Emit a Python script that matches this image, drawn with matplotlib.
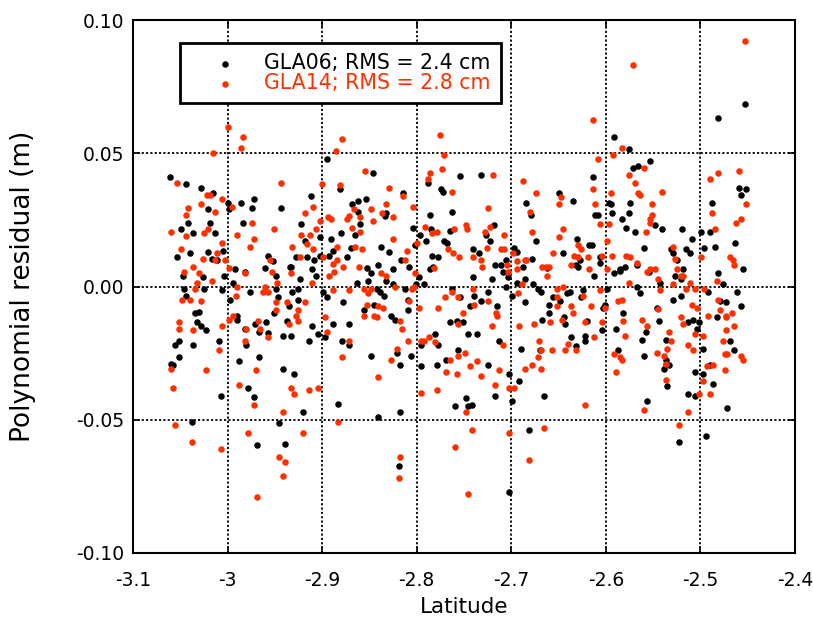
import matplotlib
matplotlib.use("Agg")
import matplotlib.pyplot as plt
import numpy as np

# GLA06 (black) points: latitude, residual (m)
gla06 = [
(-3.061,0.041),(-3.044,0.0386),(-3.028,0.037),(-3.015,0.035),(-3.0,0.0315),(-2.986,0.0315),(-2.972,0.033),(-2.998,0.029),
(-2.974,0.0296),(-3.021,0.029),(-3.042,0.024),(-3.019,0.024),(-2.984,0.024),(-3.049,0.0214),(-3.037,0.020),(-3.013,0.020),
(-3.040,0.0124),(-3.021,0.013),(-3.005,0.0135),(-3.053,0.011),(-3.016,0.0105),(-3.011,0.0098),(-2.992,0.0067),
(-2.982,0.0056),(-3.047,0.004),(-3.026,0.0034),(-3.004,0.004),(-2.994,0.0015),(-3.046,-0.0008),(-3.025,-0.0008),(-3.006,-0.0015),
(-2.976,-0.002),(-3.044,-0.0034),(-2.997,-0.0052),(-3.030,-0.0094),(-3.034,-0.010),(-2.990,-0.011),(-2.990,-0.0124),(-3.032,-0.0135),
(-3.028,-0.015),(-2.971,-0.014),(-3.023,-0.0165),(-2.982,-0.0158),(-2.967,-0.017),(-3.051,-0.0206),(-3.056,-0.022),(-3.037,-0.022),
(-3.009,-0.0206),(-2.980,-0.022),(-3.051,-0.0266),(-2.967,-0.0266),(-3.060,-0.029),(-3.058,-0.0296),(-2.988,-0.028),(-2.978,-0.038),
(-3.007,-0.041),(-2.972,-0.0416),(-3.038,-0.051),(-2.969,-0.0596),
(-2.895,0.048),(-2.881,0.0364),(-2.912,0.034),(-2.862,0.032),(-2.944,0.0296),(-2.868,0.031),(-2.862,0.028),(-2.860,0.0236),
(-2.922,0.0236),(-2.880,0.020),(-2.902,0.0187),(-2.865,0.0195),(-2.891,0.018),(-2.918,0.0172),(-2.870,0.0146),(-2.902,0.0116),
(-2.888,0.0135),(-2.957,0.0116),(-2.952,0.0094),(-2.928,0.011),(-2.916,0.011),(-2.893,0.0116),(-2.909,0.0098),(-2.874,0.011),
(-2.934,0.0075),(-2.911,0.0067),
(-2.960,0.007),(-2.949,0.004),(-2.933,0.0075),(-2.907,0.004),(-2.923,0.003),(-2.863,0.0015),(-2.949,-0.0008),(-2.932,-0.002),
(-2.926,-0.0008),(-2.899,-0.002),(-2.947,-0.004),(-2.895,-0.004),(-2.926,-0.005),(-2.935,-0.0075),(-2.878,-0.006),(-2.951,-0.010),
(-2.959,-0.0135),(-2.937,-0.013),(-2.888,-0.014),(-2.872,-0.014),(-2.911,-0.015),(-2.904,-0.018),(-2.957,-0.0176),(-2.941,-0.0184),
(-2.933,-0.0184),(-2.897,-0.019),(-2.914,-0.0206),(-2.879,-0.0206),(-2.872,-0.022),(-2.941,-0.031),(-2.930,-0.033),(-2.883,-0.044),
(-2.920,-0.047),(-2.946,-0.0514),(-2.939,-0.059),
(-2.846,0.0427),(-2.754,0.0416),(-2.788,0.039),(-2.774,0.0364),(-2.772,0.0356),(-2.815,0.035),(-2.854,0.033),(-2.763,0.028),
(-2.832,0.0274),(-2.834,0.0266),(-2.786,0.027),(-2.804,0.022),(-2.785,0.0214),(-2.797,0.0195),(-2.765,0.021),(-2.790,0.0172),
(-2.771,0.0172),(-2.768,0.0165),(-2.802,0.0157),(-2.838,0.015),(-2.829,0.013),(-2.784,0.0116),(-2.778,0.011),(-2.817,0.0098),
(-2.808,0.0075),(-2.841,0.0082),(-2.853,0.0071),(-2.825,0.0067),
(-2.786,0.0064),(-2.783,0.0075),(-2.848,0.005),(-2.798,0.0034),(-2.851,0.0019),(-2.833,0.0019),(-2.825,0.0008),(-2.842,-0.0008),
(-2.812,-0.0008),(-2.801,0.0008),(-2.792,0.0008),(-2.839,-0.002),(-2.835,-0.0034),(-2.763,-0.0008),(-2.809,-0.005),(-2.845,-0.0068),
(-2.856,-0.009),(-2.809,-0.009),(-2.827,-0.011),(-2.823,-0.0124),(-2.765,-0.0135),(-2.757,-0.013),(-2.781,-0.018),(-2.795,-0.022),
(-2.777,-0.022),(-2.821,-0.0248),(-2.756,-0.024),(-2.848,-0.026),(-2.806,-0.026),(-2.769,-0.0274),(-2.818,-0.0296),(-2.795,-0.030),
(-2.779,-0.0296),(-2.760,-0.045),(-2.841,-0.0488),(-2.818,-0.047),(-2.819,-0.0675),
(-2.732,0.042),(-2.650,0.035),(-2.684,0.0315),(-2.679,0.027),(-2.718,0.0232),(-2.727,0.0195),(-2.723,0.0172),(-2.674,0.0172),
(-2.741,0.014),(-2.697,0.0146),(-2.694,0.013),(-2.734,0.0127),(-2.678,0.0105),(-2.706,0.0098),(-2.717,0.0082),(-2.711,0.0082),
(-2.688,0.0075),(-2.662,0.0071),
(-2.709,0.0056),(-2.741,0.0037),(-2.720,0.003),(-2.686,0.003),(-2.703,0.0037),(-2.694,0.0015),(-2.677,0.0008),(-2.706,0.0),
(-2.672,-0.0008),(-2.669,-0.002),(-2.725,-0.002),(-2.699,-0.0034),(-2.754,-0.004),(-2.739,-0.0034),(-2.732,-0.0056),(-2.656,-0.004),
(-2.686,-0.006),(-2.744,-0.0075),(-2.715,-0.0075),(-2.660,-0.0068),(-2.660,-0.010),(-2.667,-0.0124),(-2.751,-0.0135),(-2.746,-0.018),
(-2.736,-0.018),(-2.713,-0.0206),(-2.690,-0.0233),(-2.670,-0.024),(-2.725,-0.0296),(-2.702,-0.033),(-2.692,-0.0356),(-2.717,-0.041),
(-2.665,-0.041),(-2.748,-0.042),(-2.699,-0.043),(-2.742,-0.0446),(-2.746,-0.045),(-2.681,-0.054),(-2.702,-0.077),
(-2.591,0.056),(-2.576,0.0517),(-2.571,0.0446),(-2.566,0.0454),(-2.553,0.047),(-2.614,0.041),(-2.635,0.032),(-2.597,0.0315),
(-2.595,0.031),(-2.574,0.0315),(-2.593,0.0277),(-2.611,0.027),(-2.608,0.027),(-2.576,0.0277),(-2.583,0.0255),(-2.548,0.0229),
(-2.579,0.022),(-2.569,0.0206),(-2.630,0.018),(-2.618,0.0157),(-2.615,0.0157),(-2.560,0.0146),(-2.645,0.0124),(-2.627,0.010),
(-2.606,0.011),(-2.580,0.0075),(-2.567,0.008),(-2.606,0.009),(-2.632,0.008),(-2.629,0.0075),(-2.585,0.0067),
(-2.613,0.004),(-2.591,0.005),(-2.585,0.006),(-2.554,0.0053),(-2.567,0.0),(-2.599,-0.0008),(-2.624,-0.0015),(-2.641,-0.0026),
(-2.638,-0.002),(-2.564,-0.0026),(-2.626,-0.004),(-2.648,-0.0056),(-2.601,-0.0068),(-2.603,-0.0082),(-2.546,-0.0082),(-2.582,-0.010),
(-2.644,-0.0116),(-2.620,-0.013),(-2.643,-0.014),(-2.544,-0.013),(-2.589,-0.0158),(-2.604,-0.0165),(-2.558,-0.017),(-2.637,-0.019),
(-2.622,-0.0187),(-2.562,-0.020),(-2.622,-0.0206),(-2.632,-0.0225),(-2.587,-0.024),(-2.560,-0.026),(-2.557,-0.043),
(-2.453,0.0686),(-2.481,0.0634),(-2.459,0.037),(-2.452,0.0364),(-2.457,0.0345),(-2.488,0.0315),(-2.541,0.0214),(-2.520,0.0214),
(-2.499,0.0206),(-2.490,0.0206),(-2.509,0.018),(-2.463,0.0165),(-2.485,0.015),(-2.496,0.0146),(-2.531,0.014),(-2.529,0.0124),
(-2.515,0.014),(-2.511,0.0124),(-2.525,0.0098),(-2.455,0.0067),(-2.518,0.0067),
(-2.481,0.005),(-2.527,0.004),(-2.521,0.003),(-2.476,0.0008),(-2.543,0.0015),(-2.492,-0.002),(-2.461,-0.002),(-2.521,-0.0034),
(-2.529,-0.005),(-2.479,-0.0056),(-2.473,-0.006),(-2.457,-0.0075),(-2.483,-0.0116),(-2.508,-0.0124),(-2.513,-0.0135),(-2.502,-0.0135),
(-2.504,-0.0158),(-2.536,-0.020),(-2.469,-0.0206),(-2.497,-0.0233),(-2.465,-0.024),(-2.536,-0.0274),(-2.536,-0.029),(-2.533,-0.0296),
(-2.539,-0.031),(-2.490,-0.0296),(-2.506,-0.032),(-2.497,-0.033),(-2.487,-0.0364),(-2.535,-0.0375),(-2.513,-0.0405),(-2.506,-0.041),
(-2.472,-0.0457),(-2.494,-0.0562),(-2.523,-0.0585),
]

# GLA14 (red) points: latitude, residual (m)
gla14 = [
(-3.0,0.060),(-2.984,0.056),(-2.986,0.052),(-3.015,0.050),(-3.053,0.039),(-3.022,0.0345),(-3.019,0.0345),(-3.006,0.033),
(-3.028,0.031),(-2.995,0.030),(-3.042,0.0296),(-3.013,0.028),(-3.044,0.027),(-2.974,0.024),(-3.060,0.0206),(-3.044,0.019),
(-3.025,0.020),(-3.021,0.0214),(-2.990,0.0195),(-2.972,0.018),(-3.006,0.0165),(-2.976,0.015),(-3.049,0.014),(-3.011,0.0124),
(-3.026,0.0105),(-3.013,0.010),(-3.003,0.0098),(-3.037,0.0075),(-2.998,0.007),
(-2.982,0.005),(-3.046,0.0056),(-3.030,0.005),(-3.016,0.0022),(-3.032,0.0015),(-2.990,0.0),(-3.034,-0.0008),(-2.991,-0.0034),
(-3.048,-0.005),(-3.040,-0.005),(-3.028,-0.0056),(-2.994,-0.011),(-2.998,-0.0124),(-3.051,-0.0135),(-2.968,-0.013),(-3.006,-0.015),
(-3.051,-0.0158),(-3.037,-0.0165),(-2.980,-0.0158),(-2.982,-0.0206),(-3.009,-0.024),(-3.060,-0.031),(-3.023,-0.0315),(-2.970,-0.0315),
(-3.058,-0.038),(-2.988,-0.037),(-2.972,-0.0446),(-3.056,-0.052),(-2.978,-0.0548),(-3.038,-0.0585),(-3.007,-0.061),(-2.969,-0.079),
(-2.879,0.0555),(-2.885,0.051),(-2.944,0.039),(-2.900,0.0386),(-2.881,0.038),(-2.910,0.030),(-2.866,0.029),(-2.918,0.0277),
(-2.872,0.0266),(-2.894,0.026),(-2.891,0.0255),(-2.902,0.0247),(-2.874,0.0255),(-2.868,0.022),(-2.951,0.0214),(-2.907,0.0214),
(-2.922,0.0195),(-2.913,0.0195),(-2.916,0.016),(-2.932,0.015),(-2.884,0.015),(-2.865,0.015),(-2.910,0.014),(-2.955,0.010),
(-2.923,0.011),(-2.899,0.011),(-2.884,0.0098),(-2.889,0.0086),(-2.878,0.0075),(-2.861,0.0075),
(-2.953,0.0056),(-2.933,0.005),(-2.911,0.0015),(-2.893,0.004),(-2.887,0.0056),(-2.948,0.0015),(-2.960,0.0),(-2.963,-0.002),
(-2.957,-0.002),(-2.889,-0.0015),(-2.872,-0.0015),(-2.949,-0.006),(-2.937,-0.006),(-2.918,-0.006),(-2.949,-0.009),(-2.926,-0.009),
(-2.928,-0.011),(-2.897,-0.0116),(-2.926,-0.013),(-2.935,-0.014),(-2.966,-0.0158),(-2.895,-0.017),(-2.957,-0.019),(-2.872,-0.0206),
(-2.879,-0.0266),(-2.904,-0.038),(-2.933,-0.038),(-2.914,-0.039),(-2.930,-0.0405),(-2.941,-0.047),(-2.883,-0.051),(-2.920,-0.0548),
(-2.946,-0.064),(-2.939,-0.066),(-2.941,-0.071),
(-2.775,0.057),(-2.771,0.0495),(-2.855,0.0435),(-2.773,0.044),(-2.786,0.0427),(-2.788,0.0405),(-2.829,0.037),(-2.763,0.0356),
(-2.815,0.034),(-2.832,0.031),(-2.804,0.030),(-2.848,0.029),(-2.837,0.0274),(-2.825,0.026),(-2.860,0.0259),(-2.846,0.0247),
(-2.791,0.0225),(-2.761,0.0217),(-2.784,0.020),(-2.779,0.0206),(-2.860,0.0206),(-2.825,0.018),(-2.800,0.0165),(-2.858,0.0142),
(-2.767,0.0142),(-2.762,0.0127),(-2.810,0.0135),(-2.755,0.0112),(-2.812,0.0098),(-2.782,0.0071),
(-2.838,0.005),(-2.833,0.004),(-2.802,0.005),(-2.823,0.0),(-2.856,-0.0008),(-2.848,-0.0008),(-2.805,-0.0008),(-2.803,0.0),
(-2.851,-0.0026),(-2.763,-0.002),(-2.770,-0.004),(-2.756,-0.004),(-2.808,-0.0056),(-2.853,-0.0068),(-2.841,-0.0075),(-2.836,-0.0082),
(-2.798,-0.0082),(-2.777,-0.0082),(-2.856,-0.011),(-2.845,-0.011),(-2.842,-0.0116),(-2.818,-0.013),(-2.756,-0.014),(-2.816,-0.0158),
(-2.787,-0.019),(-2.809,-0.0206),(-2.795,-0.0206),(-2.792,-0.0203),(-2.781,-0.021),(-2.821,-0.0233),(-2.827,-0.0274),(-2.765,-0.0274),
(-2.756,-0.026),(-2.769,-0.032),(-2.757,-0.033),(-2.841,-0.034),(-2.795,-0.040),(-2.779,-0.039),(-2.760,-0.0604),(-2.818,-0.064),
(-2.819,-0.072),
(-2.719,0.042),(-2.688,0.0397),(-2.674,0.035),(-2.650,0.031),(-2.725,0.0296),(-2.680,0.028),(-2.748,0.0229),(-2.747,0.0217),
(-2.722,0.0225),(-2.728,0.0206),(-2.678,0.0206),(-2.708,0.0195),(-2.650,0.0184),(-2.726,0.0146),(-2.711,0.014),(-2.708,0.014),
(-2.698,0.0127),(-2.740,0.011),(-2.732,0.0098),(-2.686,0.010),(-2.684,0.010),(-2.694,0.0094),(-2.656,0.0127),(-2.731,0.0075),
(-2.667,0.0075),(-2.660,0.0075),
(-2.705,0.0082),(-2.703,0.0056),(-2.694,0.0064),(-2.663,0.0072),(-2.662,0.004),(-2.689,0.0008),(-2.741,-0.0008),(-2.652,-0.0008),
(-2.693,-0.0026),(-2.725,-0.0056),(-2.652,-0.004),(-2.739,-0.0068),(-2.652,-0.0075),(-2.751,-0.010),(-2.716,-0.010),(-2.715,-0.011),
(-2.659,-0.0135),(-2.720,-0.015),(-2.692,-0.015),(-2.676,-0.014),(-2.671,-0.0206),(-2.709,-0.022),(-2.669,-0.024),(-2.657,-0.024),
(-2.749,-0.0248),(-2.672,-0.0266),(-2.736,-0.028),(-2.744,-0.030),(-2.678,-0.0296),(-2.686,-0.031),(-2.669,-0.031),(-2.713,-0.0315),
(-2.732,-0.0337),(-2.717,-0.037),(-2.702,-0.038),(-2.697,-0.038),(-2.748,-0.047),(-2.742,-0.054),(-2.702,-0.0548),(-2.665,-0.053),
(-2.681,-0.065),(-2.746,-0.078),
(-2.571,0.083),(-2.614,0.0626),(-2.583,0.052),(-2.608,0.048),(-2.592,0.0495),(-2.560,0.0446),(-2.576,0.042),(-2.569,0.039),
(-2.614,0.0364),(-2.647,0.0337),(-2.595,0.035),(-2.566,0.035),(-2.564,0.0345),(-2.611,0.031),(-2.551,0.031),(-2.551,0.027),
(-2.553,0.0255),(-2.553,0.024),(-2.606,0.0236),(-2.597,0.0236),(-2.645,0.0214),(-2.558,0.0206),(-2.599,0.0172),(-2.629,0.0157),
(-2.626,0.014),(-2.634,0.0116),(-2.629,0.011),(-2.619,0.011),(-2.604,0.0116),(-2.593,0.0116),(-2.579,0.0116),(-2.574,0.011),
(-2.567,0.009),(-2.637,0.0082),(-2.618,0.0067),(-2.599,0.0067),(-2.553,0.0067),(-2.548,0.0067),(-2.556,0.0055),
(-2.545,0.003),(-2.576,0.0015),(-2.645,0.0),(-2.606,-0.0015),(-2.543,-0.0015),(-2.624,-0.0034),(-2.587,-0.0056),(-2.583,-0.005),
(-2.637,-0.0075),(-2.616,-0.0075),(-2.601,-0.0082),(-2.545,-0.0086),(-2.635,-0.010),(-2.646,-0.0124),(-2.562,-0.0124),(-2.622,-0.0135),
(-2.582,-0.013),(-2.604,-0.0135),(-2.557,-0.015),(-2.580,-0.0184),(-2.613,-0.019),(-2.640,-0.0214),(-2.643,-0.024),(-2.632,-0.024),
(-2.546,-0.0248),(-2.591,-0.0255),(-2.585,-0.0266),(-2.583,-0.0274),(-2.589,-0.032),(-2.622,-0.0446),(-2.560,-0.0465),
(-2.453,0.092),(-2.459,0.0435),(-2.481,0.0427),(-2.490,0.0405),(-2.541,0.0356),(-2.452,0.031),(-2.488,0.0277),(-2.457,0.0255),
(-2.462,0.024),(-2.485,0.0214),(-2.529,0.015),(-2.527,0.0105),(-2.499,0.011),(-2.469,0.011),(-2.466,0.0098),(-2.464,0.0082),
(-2.525,0.0067),
(-2.521,0.004),(-2.518,0.004),(-2.511,0.0015),(-2.483,0.0022),(-2.529,0.0008),(-2.515,-0.0008),(-2.506,-0.0008),(-2.496,-0.0008),
(-2.481,-0.005),(-2.509,-0.0068),(-2.504,-0.0082),(-2.479,-0.009),(-2.492,-0.011),(-2.467,-0.010),(-2.473,-0.011),(-2.473,-0.0116),
(-2.521,-0.0116),(-2.518,-0.014),(-2.465,-0.015),(-2.473,-0.0165),(-2.533,-0.017),(-2.506,-0.018),(-2.497,-0.0184),(-2.531,-0.0206),
(-2.476,-0.0206),(-2.513,-0.022),(-2.535,-0.0233),(-2.508,-0.024),(-2.539,-0.026),(-2.472,-0.0255),(-2.474,-0.0255),(-2.457,-0.026),
(-2.455,-0.0274),(-2.536,-0.029),(-2.493,-0.030),(-2.487,-0.0296),(-2.474,-0.0315),(-2.536,-0.035),(-2.497,-0.0356),(-2.502,-0.0405),
(-2.490,-0.0405),(-2.513,-0.047),(-2.523,-0.052),
]

x_ticks = [-3.1, -3.0, -2.9, -2.8, -2.7, -2.6, -2.5, -2.4]
x_tick_labels = ["-3.1", "-3", "-2.9", "-2.8", "-2.7", "-2.6", "-2.5", "-2.4"]
y_ticks = [-0.10, -0.05, 0.00, 0.05, 0.10]
y_tick_labels = ["-0.10", "-0.05", "0.00", "0.05", "0.10"]
labels = ["GLA06; RMS = 2.4 cm", "GLA14; RMS = 2.8 cm"]
colors = ["black", "#ff3000"]

plt.rcParams['font.family'] = ['DejaVu Sans']

fig = plt.figure(figsize=(8.13, 6.30), dpi=100)
ax = fig.add_axes([133/813, 1-553/630, (795-133)/813, (553-20)/630])

g06 = np.array(gla06)
g14 = np.array(gla14)
ax.scatter(g06[:, 0], g06[:, 1], s=22, c=colors[0], linewidths=0, label=labels[0], zorder=3)
ax.scatter(g14[:, 0], g14[:, 1], s=22, c=colors[1], linewidths=0, label=labels[1], zorder=3)

ax.set_xlim(-3.1, -2.4)
ax.set_ylim(-0.10, 0.10)
ax.set_xticks(x_ticks)
ax.set_xticklabels(x_tick_labels)
ax.set_yticks(y_ticks)
ax.set_yticklabels(y_tick_labels)
ax.tick_params(direction='in', length=5, width=1.2, labelsize=13.5, top=True, right=True)
ax.tick_params(axis='x', pad=13)
ax.tick_params(axis='y', pad=6)
ax.grid(True, color='black', linestyle=(0, (1.2, 1.2)), linewidth=1.3, zorder=1)
for sp in ax.spines.values():
    sp.set_linewidth(1.5)

ax.set_xlabel("Latitude", fontsize=15.5, labelpad=5)
ax.set_ylabel("Polynomial residual (m)", fontsize=19, labelpad=29)

leg = ax.legend(loc='upper left', bbox_to_anchor=(0.071, 0.957), frameon=True, fancybox=False,
                edgecolor='black', framealpha=1, fontsize=14.8, labelcolor='markerfacecolor',
                handletextpad=0.16, handlelength=3.42, borderpad=0.5, labelspacing=0.0,
                markerscale=1.0, borderaxespad=0)
leg.get_frame().set_linewidth(2)

fig.savefig("out.png", dpi=100)
